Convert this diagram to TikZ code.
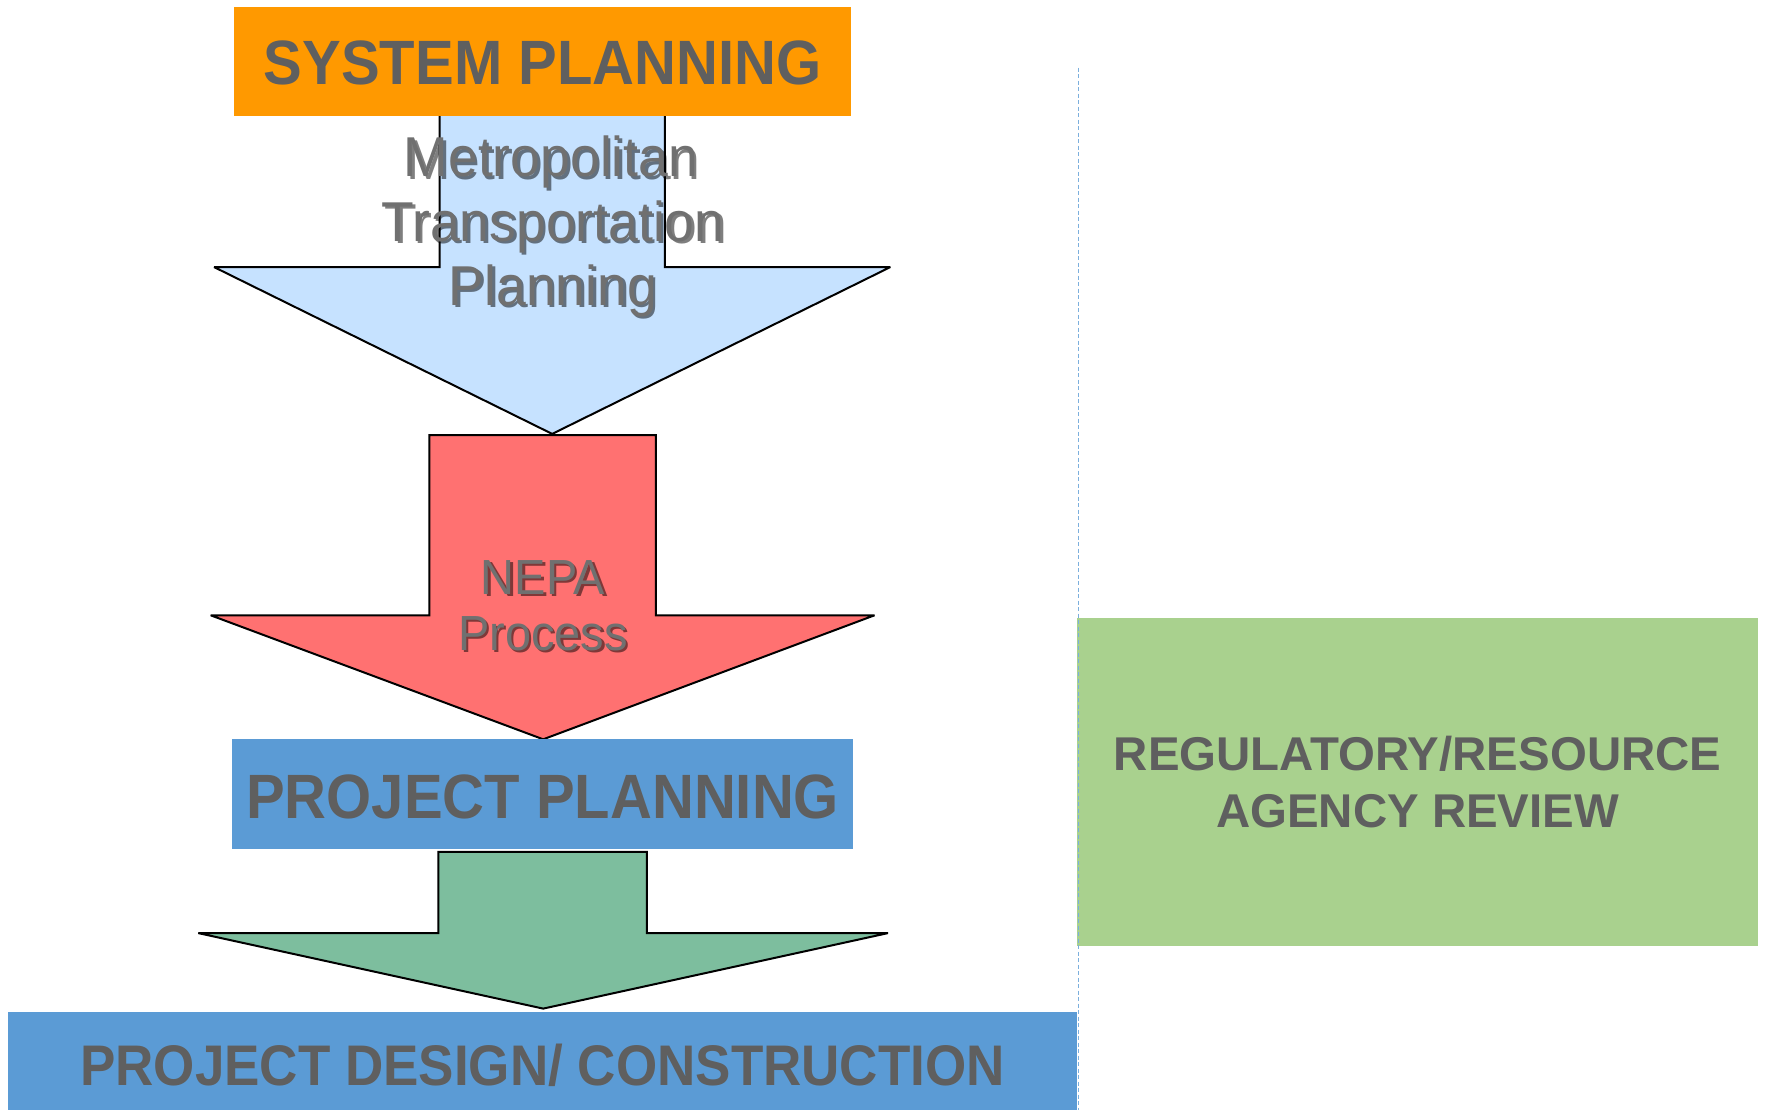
\documentclass[tikz,border=0pt]{standalone}
\usepackage{fontspec}
\setmainfont{Liberation Sans}
\definecolor{sysorange}{HTML}{FF9900}
\definecolor{mtpblue}{HTML}{C6E2FF}
\definecolor{nepared}{HTML}{FF7171}
\definecolor{boxblue}{HTML}{5B9BD5}
\definecolor{designgreen}{HTML}{7DBE9E}
\definecolor{agencygreen}{HTML}{A9D18E}
\definecolor{labelgray}{HTML}{5F5F5F}
\definecolor{softgray}{HTML}{707070}
\newcommand\shadowlabel[4]{%
  \node[shadowtext,font=#4,xshift=2.5pt,yshift=-2.5pt] at (#2) {\scalebox{1}[1.05]{#3}};
  \node[softtext,font=#4] (#1) at (#2) {\scalebox{1}[1.05]{#3}};}
\newcommand\tallcaps[1]{\scalebox{1}[1.08]{#1}}
\tikzset{
  stagebox/.style={draw=none,inner sep=0pt},
  bigarrow/.style={draw=black,line width=2pt,line join=miter,miter limit=2},
  capslabel/.style={anchor=base,inner sep=0pt,text=labelgray,font=\bfseries\fontsize{58}{66}\selectfont},
  shadowtext/.style={anchor=base,inner sep=0pt,text=black,opacity=0.5},
  softtext/.style={anchor=base,inner sep=0pt,text=softgray},
  divider/.style={draw=boxblue!80,line width=1.3pt,dash pattern=on 4pt off 2.5pt}
}
\begin{document}
\begin{tikzpicture}[x=1pt,y=-1pt]
\useasboundingbox (0,0) rectangle (1767,1110);

% light blue arrow: metropolitan transportation planning
\draw[bigarrow,fill=mtpblue] (439.5,110) -- (439.5,267.1) -- (214.1,267.1) -- (552.2,433.9)
  -- (890.3,267.1) -- (664.9,267.1) -- (664.9,110) -- cycle;

% system planning box
\node[stagebox,fill=sysorange,minimum width=616.4pt,minimum height=109.3pt] (sys) at (542.6,61.45) {};
\node[capslabel] (syslbl) at (542.6,84.5) {\tallcaps{SYSTEM PLANNING}};

\shadowlabel{mtp1}{551,177}{Metropolitan}{\fontsize{53.5}{60}\selectfont}
\shadowlabel{mtp2}{553,241}{Transportation}{\fontsize{53.5}{60}\selectfont}
\shadowlabel{mtp3}{553,305}{Planning}{\fontsize{53.5}{60}\selectfont}

% red arrow: NEPA process
\draw[bigarrow,fill=nepared] (429.3,435) -- (429.3,615.3) -- (210.7,615.3) -- (543.2,739.3)
  -- (874.5,615.3) -- (655.9,615.3) -- (655.9,435) -- cycle;
\shadowlabel{nepa1}{543,594}{NEPA}{\fontsize{47}{54}\selectfont}
\shadowlabel{nepa2}{543,650}{Process}{\fontsize{47}{54}\selectfont}

% project planning box
\node[stagebox,fill=boxblue,minimum width=621pt,minimum height=109.3pt] (pp) at (542.6,793.95) {};
\node[capslabel] (pplbl) at (542.6,818) {\tallcaps{PROJECT PLANNING}};

% green arrow towards design/construction
\draw[bigarrow,fill=designgreen] (438.4,851.9) -- (438.4,933.1) -- (198.3,933.1) -- (543.2,1008.6)
  -- (888,933.1) -- (646.8,933.1) -- (646.8,851.9) -- cycle;

% project design / construction box
\node[stagebox,fill=boxblue,minimum width=1069.4pt,minimum height=110pt] (pdc) at (542.6,1066.9) {};
\node[capslabel,font=\bfseries\fontsize{53}{60}\selectfont] (pdclbl) at (542.6,1085) {\tallcaps{PROJECT DESIGN/ CONSTRUCTION}};

% regulatory / resource agency review box
\node[stagebox,fill=agencygreen,minimum width=680.7pt,minimum height=328pt] (rev) at (1417.6,781.5) {};
\node[capslabel,font=\bfseries\fontsize{47.4}{54}\selectfont] (rev1) at (1417.6,770.8) {REGULATORY/RESOURCE};
\node[capslabel,font=\bfseries\fontsize{47.4}{54}\selectfont] (rev2) at (1417.6,827.5) {AGENCY REVIEW};

% dashed divider
\coordinate (divtop) at (1078.4,67.6);
\coordinate (divbot) at (1078.4,1110);
\draw[divider] (divtop) -- (divbot);
\end{tikzpicture}
\end{document}
